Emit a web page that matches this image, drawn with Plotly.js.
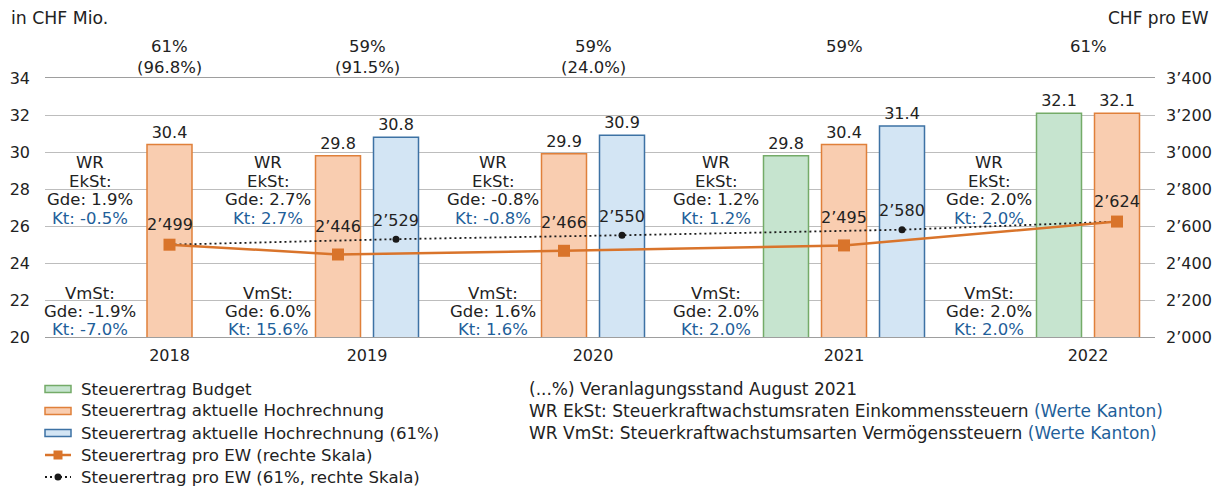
<!DOCTYPE html>
<html><head><meta charset="utf-8">
<script src="https://cdn.plot.ly/plotly-3.0.1.min.js"></script>
<style>html,body{margin:0;padding:0;background:#fff}#chart{width:1224px;height:487px}</style>
</head><body><div id="chart"></div>
<script>
// ---------- data ----------
const years = ['2018','2019','2020','2021','2022'];
const budget = [null, null, null, 29.8, 32.1];
const hochrechnung = [30.4, 29.8, 29.9, 30.4, 32.1];
const hochrechnung61 = [null, 30.8, 30.9, 31.4, null];
const proEW = [2499, 2446, 2466, 2495, 2624];
const proEW61 = [2499, 2529, 2550, 2580, 2624];
const veranlagungQuote = ['61%', '59%', '59%', '59%', '61%'];
const veranlagungStand = ['96.8%', '91.5%', '24.0%', null, null];
const ekstGde = [1.9, 2.7, -0.8, 1.2, 2.0];
const ekstKt = [-0.5, 2.7, -0.8, 1.2, 2.0];
const vmstGde = [-1.9, 6.0, 1.6, 2.0, 2.0];
const vmstKt = [-7.0, 15.6, 1.6, 2.0, 2.0];
const legendNames = ['Steuerertrag Budget', 'Steuerertrag aktuelle Hochrechnung',
  'Steuerertrag aktuelle Hochrechnung (61%)', 'Steuerertrag pro EW (rechte Skala)',
  'Steuerertrag pro EW (61%, rechte Skala)'];
const notesText = ['(...%) Veranlagungsstand August 2021',
  'WR EkSt: Steuerkraftwachstumsraten Einkommenssteuern',
  'WR VmSt: Steuerkraftwachstumsarten Vermögenssteuern'];
const notesSuffix = [null, '(Werte Kanton)', '(Werte Kanton)'];

// ---------- geometry / style ----------
const FONT = 'DejaVu Sans, Liberation Sans, Arial, sans-serif';
const TXT = '#222222', KT = '#1f5f9a';
const C = {
  budget: {fill: '#c6e4cf', line: '#74ab68'},
  hoch: {fill: '#f9cdb0', line: '#e0803a'},
  hoch61: {fill: '#d3e5f4', line: '#3d72a4'},
  ew: '#d9742b', ew61: '#1a1a1a'
};
const M = {l: 45, r: 69, t: 78, b: 150, autoexpand: false};
const PLOT_W = 1224 - M.l - M.r, PLOT_H = 487 - M.t - M.b;
const Y0 = 20, Y1 = 34;
const PITCH = 58, BAR_W = 45, FIRST_BAR = 124.5;
const LABEL_GAP = [80, 70, 71, 70, 70];      // label column -> first bar of group
const GROUP_GAP = [168.5, 168, 164, 157];    // last bar of group -> first bar of next group

const pos = {label: [], budget: [], hoch: [], hoch61: [], center: []};
let b0 = FIRST_BAR;
years.forEach((yr, i) => {
  pos.label.push(b0 - LABEL_GAP[i]);
  let b = b0;
  const slots = [];
  if (budget[i] != null) { pos.budget.push(b); slots.push(b); b += PITCH; } else pos.budget.push(null);
  pos.hoch.push(b); slots.push(b); b += PITCH;
  if (hochrechnung61[i] != null) { pos.hoch61.push(b); slots.push(b); b += PITCH; } else pos.hoch61.push(null);
  const last = slots[slots.length - 1];
  pos.center.push((slots[0] + last) / 2);
  b0 = last + (GROUP_GAP[i] || 0);
});
const pxToY = py => Y0 + (M.t + PLOT_H - py) * (Y1 - Y0) / PLOT_H;
const pxToPaperY = py => (M.t + PLOT_H - py) / PLOT_H;
const pxToPaperX = px => (px - M.l) / PLOT_W;
const thousands = v => String(v).replace(/\B(?=(\d{3})+(?!\d))/g, '\u2019');
const pct = v => v.toFixed(1) + '%';

function barTrace(vals, xs, name, col) {
  const x = [], y = [];
  vals.forEach((v, i) => { if (v != null) { x.push(xs[i]); y.push(v); } });
  return {type: 'bar', x, y, name, width: BAR_W,
    marker: {color: col.fill, line: {color: col.line, width: 1.5}},
    texttemplate: '%{y:.1f}', textposition: 'outside', cliponaxis: false, constraintext: 'none',
    textfont: {family: FONT, size: 16, color: TXT}, hoverinfo: 'y'};
}

const ew61X = proEW61.map((v, i) => hochrechnung61[i] != null ? pos.hoch61[i] : pos.hoch[i]);
const traces = [
  barTrace(budget, pos.budget, legendNames[0], C.budget),
  barTrace(hochrechnung, pos.hoch, legendNames[1], C.hoch),
  barTrace(hochrechnung61, pos.hoch61, legendNames[2], C.hoch61),
  {type: 'scatter', mode: 'lines+markers', yaxis: 'y2', name: legendNames[4],
    x: ew61X, y: proEW61,
    line: {color: C.ew61, width: 1.8, dash: '2px,3px'},
    marker: {color: C.ew61, size: 7, symbol: 'circle'}, cliponaxis: false},
  {type: 'scatter', mode: 'lines+markers', yaxis: 'y2', name: legendNames[3],
    x: pos.hoch, y: proEW,
    line: {color: C.ew, width: 2.5},
    marker: {color: C.ew, size: 12, symbol: 'square'}, cliponaxis: false}
];

const ann = [];
const shapes = [];
const A = (o, size) => ann.push(Object.assign({showarrow: false, font: {family: FONT, size: size || 16, color: TXT}}, o));
// value labels of the two per-inhabitant lines (placed at the data points, shifted upward)
proEW.forEach((v, i) => A({xref: 'x', yref: 'y2', x: pos.hoch[i], y: v, yanchor: 'middle',
  yshift: hochrechnung61[i] != null ? 28 : 20, text: thousands(v)}, 16));
proEW61.forEach((v, i) => { if (hochrechnung61[i] != null) A({xref: 'x', yref: 'y2', x: ew61X[i], y: v,
  yanchor: 'middle', yshift: 19, text: thousands(v)}, 16); });

A({xref: 'paper', yref: 'paper', x: pxToPaperX(9), y: pxToPaperY(18), xanchor: 'left', yanchor: 'middle', text: 'in CHF Mio.'}, 17.3);
A({xref: 'paper', yref: 'paper', x: pxToPaperX(1211), y: pxToPaperY(18), xanchor: 'right', yanchor: 'middle', text: 'CHF pro EW'}, 17);
years.forEach((yr, i) => {
  A({xref: 'x', yref: 'paper', x: pos.center[i], y: pxToPaperY(46), yanchor: 'middle', text: veranlagungQuote[i]}, 16.5);
  if (veranlagungStand[i]) A({xref: 'x', yref: 'paper', x: pos.center[i], y: pxToPaperY(67), yanchor: 'middle', text: '(' + veranlagungStand[i] + ')'}, 16.5);
  const lx = pos.label[i];
  const lines = [
    ['WR', 162.5, TXT], ['EkSt:', 181, TXT], ['Gde: ' + pct(ekstGde[i]), 199.5, TXT], ['Kt: ' + pct(ekstKt[i]), 218, KT],
    ['VmSt:', 293, TXT], ['Gde: ' + pct(vmstGde[i]), 311.5, TXT], ['Kt: ' + pct(vmstKt[i]), 329, KT]
  ];
  lines.forEach(([t, py, c]) => ann.push({showarrow: false, xref: 'x', yref: 'y', x: lx, y: pxToY(py), yanchor: 'middle', text: t,
    font: {family: FONT, size: 16.5, color: c}}));
});
notesText.forEach((t, k) => A({xref: 'paper', yref: 'paper', x: pxToPaperX(527), y: pxToPaperY(389 + 22 * k),
  xanchor: 'left', yanchor: 'middle',
  text: t + (notesSuffix[k] ? ' <span style="color:' + KT + '">' + notesSuffix[k] + '</span>' : '')}, 17));

// ---------- hand-drawn legend (flat bar swatches like the original) ----------
const LEG_X0 = 45, LEG_X1 = 71, LEG_TX = 79, LEG_Y = 389, LEG_DY = 22;
const P = (px, py) => [pxToPaperX(px), pxToPaperY(py)];
const legendSwatches = [
  {kind: 'bar', col: C.budget}, {kind: 'bar', col: C.hoch}, {kind: 'bar', col: C.hoch61},
  {kind: 'line', color: C.ew}, {kind: 'dot', color: C.ew61}
];
legendSwatches.forEach((s, k) => {
  const cy = LEG_Y + LEG_DY * k;
  const xm = (LEG_X0 + LEG_X1) / 2;
  if (s.kind === 'bar') {
    const [x0, y0] = P(LEG_X0, cy + 3.5), [x1, y1] = P(LEG_X1, cy - 3.5);
    shapes.push({type: 'rect', xref: 'paper', yref: 'paper', x0, y0, x1, y1, fillcolor: s.col.fill, line: {color: s.col.line, width: 1.5}});
  } else if (s.kind === 'line') {
    const [x0, y0] = P(LEG_X0, cy), [x1] = P(LEG_X1, cy);
    shapes.push({type: 'line', xref: 'paper', yref: 'paper', x0, y0, x1, y1: y0, line: {color: s.color, width: 2.5}});
    const [a0, b0_] = P(xm - 4.5, cy + 4.5), [a1, b1] = P(xm + 4.5, cy - 4.5);
    shapes.push({type: 'rect', xref: 'paper', yref: 'paper', x0: a0, y0: b0_, x1: a1, y1: b1, fillcolor: s.color, line: {width: 0}});
  } else {
    const [x0, y0] = P(LEG_X0, cy), [x1] = P(LEG_X1, cy);
    shapes.push({type: 'line', xref: 'paper', yref: 'paper', x0, y0, x1, y1: y0, line: {color: s.color, width: 1.8, dash: '2px,3px'}});
    const [a0, b0_] = P(xm - 3.5, cy + 3.5), [a1, b1] = P(xm + 3.5, cy - 3.5);
    shapes.push({type: 'circle', xref: 'paper', yref: 'paper', x0: a0, y0: b0_, x1: a1, y1: b1, fillcolor: s.color, line: {width: 0}});
  }
  A({xref: 'paper', yref: 'paper', x: pxToPaperX(LEG_TX), y: pxToPaperY(cy), xanchor: 'left', yanchor: 'middle', text: legendNames[k]}, 16.6);
});

const layout = {
  width: 1224, height: 487, margin: M, paper_bgcolor: '#fff', plot_bgcolor: '#fff',
  separators: '.\u2019', barmode: 'overlay', showlegend: false,
  font: {family: FONT, size: 16, color: TXT},
  xaxis: {range: [0, PLOT_W], tickvals: pos.center, ticktext: years, showgrid: false, zeroline: false,
    showline: true, mirror: true, linecolor: '#9e9e9e', linewidth: 1, ticks: '', ticklabelstandoff: 4,
    tickfont: {family: FONT, size: 16, color: TXT}, fixedrange: true},
  yaxis: {range: [Y0, Y1], dtick: 2, gridcolor: '#bdbdbd', gridwidth: 1, zeroline: false, ticks: '',
    ticklabelstandoff: 14, tickfont: {family: FONT, size: 16, color: TXT}, fixedrange: true},
  yaxis2: {range: [2000, 3400], dtick: 200, overlaying: 'y', side: 'right', showgrid: false, zeroline: false,
    tickformat: ',d', ticks: '', ticklabelstandoff: 10, tickfont: {family: FONT, size: 16, color: TXT}, fixedrange: true},
  annotations: ann,
  shapes: shapes
};
Plotly.newPlot('chart', traces, layout, {displayModeBar: false, staticPlot: true});
</script></body></html>
